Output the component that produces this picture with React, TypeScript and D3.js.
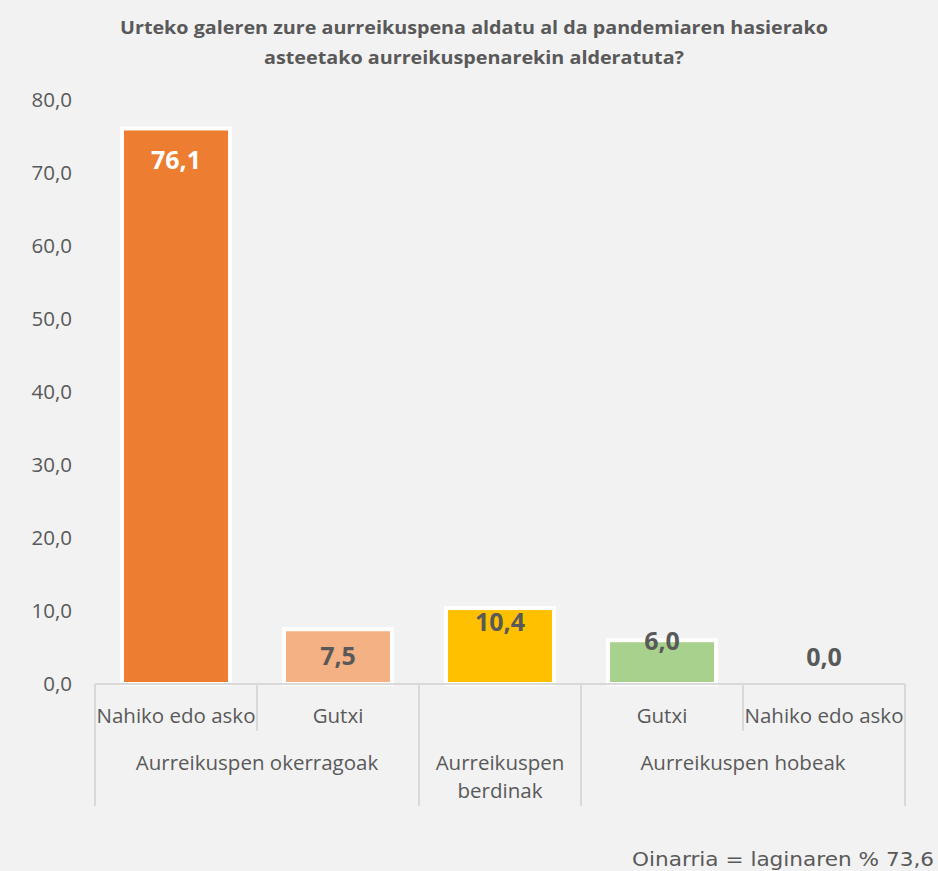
import * as d3 from 'd3';

const W = 938, H = 871;

const titleLines = [
	'Urteko galeren zure aurreikuspena aldatu al da pandemiaren hasierako',
	'asteetako aurreikuspenarekin alderatuta?',
];
const categories = ['Nahiko edo asko', 'Gutxi', '', 'Gutxi', 'Nahiko edo asko'];
const values = [76.1, 7.5, 10.4, 6.0, 0.0];
const barColors = ['#ED7D31', '#F4B183', '#FFC000', '#A9D18E', '#A9D18E'];
const labelColors = ['#FFFFFF', '#595959', '#595959', '#595959', '#595959'];
const groupLabels = [['Aurreikuspen okerragoak'], ['Aurreikuspen', 'berdinak'], ['Aurreikuspen hobeak']];
const groupSpans = [2, 1, 2];
const yTicks = [0, 10, 20, 30, 40, 50, 60, 70, 80];
const footnote = 'Oinarria = laginaren % 73,6';

// label offset from bar top (Excel shifts the small ones around)
const labelDy = [32, 27, 14, 1, -27];

const margin = { left:95, right:33, top:100, baseline:684 };
const textColor = '#595959';
const lineColor = '#D9D9D9';
const sans = '"Open Sans", "Noto Sans", sans-serif';

const fmt = d3.formatLocale({ decimal:',', thousands:'.', grouping:[3], currency:['', ''] }).format('.1f');

export default function App() {

	const x = d3.scaleBand<number>()
	.domain(d3.range(categories.length))
	.range([margin.left, W - margin.right])
	.paddingInner(1/3)
	.paddingOuter(1/6);

	const y = d3.scaleLinear()
	.domain([0, 80])
	.range([margin.baseline, margin.top]);

	const step = x.step();
	const x0 = margin.left;
	const x1 = W - margin.right;

	// group boundaries in category index
	const bounds: number[] = [0];
	groupSpans.forEach(s => bounds.push(bounds[bounds.length-1] + s));
	const groupEdges = bounds.map(i => x0 + i*step);
	const innerEdges = d3.range(1, categories.length).filter(i => !bounds.includes(i)).map(i => x0 + i*step);

	return (
		<svg width={W} height={H} style={{ position:'fixed', left:0, top:0 }} fontFamily={sans}>
			<rect width={W} height={H} fill='#F2F2F2' />

			{titleLines.map((t, i) => (
				<text key={i} x={474} y={34 + i*30} textAnchor='middle' fontSize={18} fontWeight={700}
					fill={textColor} textLength={i === 0 ? 708 : 420} lengthAdjust='spacingAndGlyphs'>{t}</text>
			))}

			{yTicks.map(t => (
				<text key={t} x={72} y={y(t)} dy='0.35em' textAnchor='end' fontSize={20.5} fill={textColor}>{fmt(t)}</text>
			))}

			{values.map((v, i) => (
				<rect key={i} x={x(i)} y={y(v)} width={x.bandwidth()} height={y(0) - y(v)}
					fill={barColors[i]} stroke='#FFFFFF' strokeWidth={v > 0 ? 4 : 0} />
			))}

			<line x1={x0} x2={x1} y1={margin.baseline} y2={margin.baseline} stroke={lineColor} strokeWidth={2} />
			{groupEdges.map((gx, i) => (
				<line key={'g'+i} x1={gx} x2={gx} y1={margin.baseline} y2={806} stroke={lineColor} strokeWidth={2} />
			))}
			{innerEdges.map((ix, i) => (
				<line key={'c'+i} x1={ix} x2={ix} y1={margin.baseline} y2={731} stroke={lineColor} strokeWidth={2} />
			))}

			{values.map((v, i) => (
				<text key={i} x={x(i)! + x.bandwidth()/2} y={y(v) + labelDy[i]} dy='0.35em' textAnchor='middle'
					fontSize={25} fontWeight={700} fill={labelColors[i]}>{fmt(v)}</text>
			))}

			{categories.map((c, i) => c && (
				<text key={i} x={x0 + (i + 0.5)*step} y={723} textAnchor='middle' fontSize={20.5} fill={textColor}>{c}</text>
			))}

			{groupLabels.map((lines, g) => (
				<text key={g} x={(groupEdges[g] + groupEdges[g+1]) / 2} y={770} textAnchor='middle' fontSize={20.5} fill={textColor}>
					{lines.map((l, k) => <tspan key={k} x={(groupEdges[g] + groupEdges[g+1]) / 2} dy={k ? 28 : 0}>{l}</tspan>)}
				</text>
			))}

			<text x={934} y={866} textAnchor='end' fontSize={19.5} fill={textColor}
				fontFamily='"DejaVu Sans", sans-serif' textLength={302} lengthAdjust='spacingAndGlyphs'>{footnote}</text>
		</svg>
	);
}
